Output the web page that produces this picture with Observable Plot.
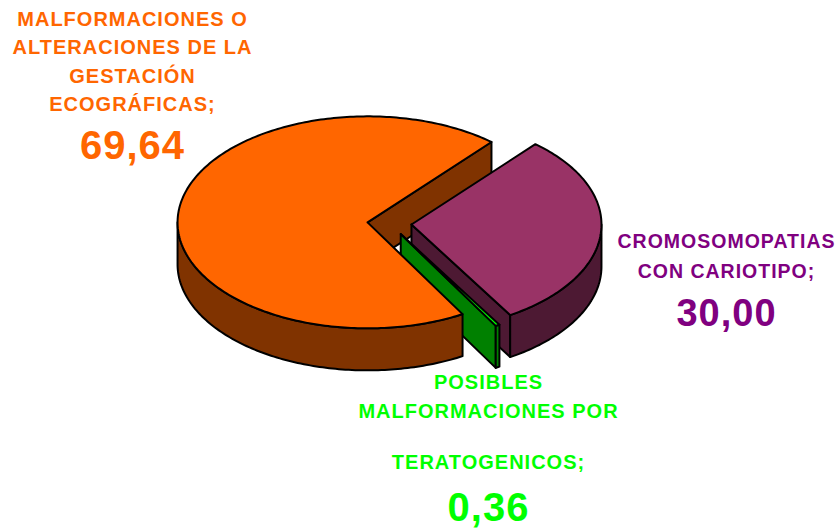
<!DOCTYPE html>
<html>
<head>
<meta charset="utf-8">
<script src="https://cdn.jsdelivr.net/npm/d3@7"></script>
<script src="https://cdn.jsdelivr.net/npm/@observablehq/plot@0.6"></script>
<style>
  html, body { margin: 0; padding: 0; background: #fff; }
  #chart text { letter-spacing: 1px; }
</style>
</head>
<body>
<div id="chart"></div>
<script>
// ---------- data ----------
const categories = [
  "MALFORMACIONES O ALTERACIONES DE LA GESTACIÓN ECOGRÁFICAS",
  "CROMOSOMOPATIAS CON CARIOTIPO",
  "POSIBLES MALFORMACIONES POR TERATOGENICOS"
];
const values = [69.64, 30.00, 0.36];
const valueLabels = ["69,64", "30,00", "0,36"];
const labelLines = [
  ["MALFORMACIONES O", "ALTERACIONES DE LA", "GESTACIÓN", "ECOGRÁFICAS;"],
  ["CROMOSOMOPATIAS", "CON CARIOTIPO;"],
  ["POSIBLES", "MALFORMACIONES POR", "", "TERATOGENICOS;"]
];

// ---------- styles / layout ----------
const topColors = ["#FF6600", "#993366", "#00FF00"];
const sideColors = ["#803300", "#4D1933", "#008000"];
const labelColors = ["#FF6600", "#800080", "#00FF00"];
const W = 840, H = 528;
const pie = {cx: 389, cy: 223, rx: 190, ry: 106, depth: 42, explode: 0.116, startDeg: 60};
const labelLayout = [
  {x: 132, lineYs: [19, 47, 76, 104.5], valueY: 146, size: 20, valueSize: 40},
  {x: 726, lineYs: [241.5, 271], valueY: 313, size: 19.5, valueSize: 38},
  {x: 488, lineYs: [382.5, 411, 436, 462], valueY: 508, size: 20, valueSize: 40}
];

// ---------- geometry from values ----------
const total = d3.sum(values);
let acc = pie.startDeg * Math.PI / 180;
const slices = values.map((v, i) => {
  const a0 = acc, a1 = acc + v / total * 2 * Math.PI;
  acc = a1;
  const mid = (a0 + a1) / 2;
  return {i, a0, a1, ox: pie.explode * Math.cos(mid), oy: pie.explode * Math.sin(mid)};
});
const P = (s, t, r, z) => [
  pie.cx + pie.rx * (s.ox + r * Math.cos(t)),
  pie.cy + pie.ry * (s.oy + r * Math.sin(t)) + z
];
const arcPts = (s, lo, hi, z) => {
  const n = Math.max(2, Math.ceil((hi - lo) / (Math.PI / 180)) + 1);
  return d3.range(n).map(k => P(s, lo + (hi - lo) * k / (n - 1), 1, z));
};

const sides = [], tops = [];
for (const s of slices) {
  // outer curved wall (front half only)
  for (let k = 0; k < 3; k++) {
    const lo = Math.max(s.a0, 2 * Math.PI * k), hi = Math.min(s.a1, 2 * Math.PI * k + Math.PI);
    if (hi > lo) {
      const pts = [...arcPts(s, lo, hi, 0), ...arcPts(s, lo, hi, pie.depth).reverse()];
      const key = s.oy + (Math.cos(lo) - Math.cos(hi)) / (hi - lo);
      sides.push({s, pts, key});
    }
  }
  // radial faces
  const radial = a => [P(s, a, 0, 0), P(s, a, 1, 0), P(s, a, 1, pie.depth), P(s, a, 0, pie.depth)];
  if (Math.cos(s.a0) < 0) sides.push({s, pts: radial(s.a0), key: s.oy + 0.5 * Math.sin(s.a0)});
  if (Math.cos(s.a1) > 0) sides.push({s, pts: radial(s.a1), key: s.oy + 0.5 * Math.sin(s.a1)});
  // top face
  tops.push({s, pts: [P(s, 0, 0, 0), ...arcPts(s, s.a0, s.a1, 0)]});
}
sides.sort((a, b) => a.key - b.key);

const rows = [];
[...sides.map(f => ({...f, fill: sideColors[f.s.i]})), ...tops.map(f => ({...f, fill: topColors[f.s.i]}))]
  .forEach((f, id) => {
    [...f.pts, f.pts[0]].forEach(([x, y]) => rows.push({id, x, y, fill: f.fill}));
  });

// ---------- labels ----------
const textRows = [];
labelLines.forEach((lines, i) => {
  const L = labelLayout[i];
  lines.forEach((t, j) => textRows.push({x: L.x, y: L.lineYs[j], text: t, fill: labelColors[i], size: L.size}));
  textRows.push({x: L.x, y: L.valueY, text: valueLabels[i], fill: labelColors[i], size: L.valueSize});
});

const chart = Plot.plot({
  width: W, height: H,
  margin: 0,
  x: {domain: [0, W], range: [0, W], axis: null},
  y: {domain: [0, H], range: [0, H], axis: null},
  color: {type: "identity"},
  style: {fontFamily: "'Liberation Sans', Arial, sans-serif", background: "#fff"},
  marks: [
    Plot.line(rows, {x: "x", y: "y", z: "id", fill: "fill", stroke: "#000", strokeWidth: 2, strokeLinejoin: "round", curve: "linear"}),
    Plot.text(textRows, {x: "x", y: "y", text: "text", fill: "fill", fontSize: "size", fontWeight: "bold", textAnchor: "middle", lineAnchor: "middle"})
  ]
});
document.getElementById("chart").appendChild(chart);
</script>
</body>
</html>
